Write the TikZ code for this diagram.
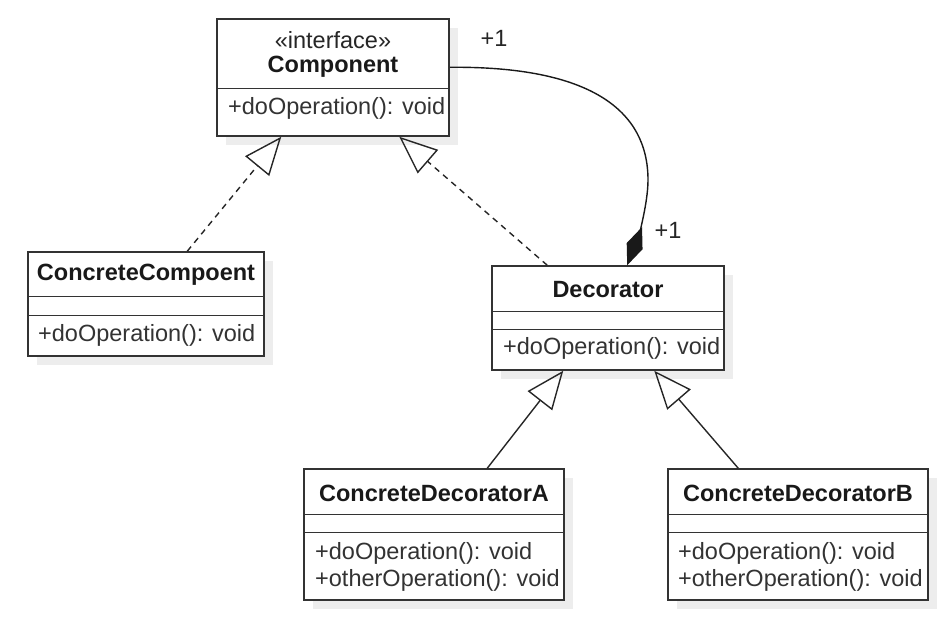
\documentclass[tikz,border=0pt]{standalone}
\usepackage{fontspec}
\setmainfont{Liberation Sans}
\usetikzlibrary{arrows.meta,calc,shadows}
\begin{document}
\begin{tikzpicture}[x=1pt,y=-1pt,
  every node/.style={font=\fontsize{23.5}{27}\selectfont},
  cls/.style={draw=black!80, line width=1.5pt, fill=white, inner sep=0pt,
    drop shadow={shadow xshift=9pt, shadow yshift=-9pt, fill=black!7, opacity=1}},
  divl/.style={draw=black!80, line width=1.5pt},
  lbl/.style={inner sep=0pt, text=black!85},
  bld/.style={inner sep=0pt, text=black!90, font=\fontsize{23.5}{27}\selectfont\bfseries},
  meth/.style={inner sep=0pt, anchor=west, text=black!80},
  real/.style={draw=black!85, line width=1.4pt, dash pattern=on 6pt off 5pt,
    -{Triangle[open,length=38pt,width=31pt,line width=1.4pt]}},
  inh/.style={draw=black!85, line width=1.4pt,
    -{Triangle[open,length=38pt,width=31pt,line width=1.4pt]}},
  compo/.style={draw=black!90, line width=1.4pt,
    -{Diamond[length=41pt,width=17pt]}}
]
\useasboundingbox (0,0) rectangle (937,618);

% Component
\node[cls, minimum width=232pt, minimum height=117pt] (comp) at (333,77.5) {};
\draw[divl] ($(comp.north west)+(0,70)$) -- ($(comp.north east)+(0,70)$);
\node[lbl] (compst) at (333,40) {«interface»};
\node[bld] (compt) at (333,67) {Component};
\node[meth] (compm) at (228,108) {+doOperation(): void};

% ConcreteCompoent
\node[cls, minimum width=236pt, minimum height=104pt] (cc) at (146,304) {};
\draw[divl] ($(cc.north west)+(0,45)$) -- ($(cc.north east)+(0,45)$);
\draw[divl] ($(cc.north west)+(0,64)$) -- ($(cc.north east)+(0,64)$);
\node[bld] (cct) at (146,275) {ConcreteCompoent};
\node[meth] (ccm) at (38,335) {+doOperation(): void};

% Decorator
\node[cls, minimum width=232pt, minimum height=104pt] (dec) at (608,318) {};
\draw[divl] ($(dec.north west)+(0,46)$) -- ($(dec.north east)+(0,46)$);
\draw[divl] ($(dec.north west)+(0,64)$) -- ($(dec.north east)+(0,64)$);
\node[bld] (dect) at (608,290) {Decorator};
\node[meth] (decm) at (503,348) {+doOperation(): void};

% ConcreteDecoratorA
\node[cls, minimum width=260pt, minimum height=131pt] (cda) at (434,534.5) {};
\draw[divl] ($(cda.north west)+(0,46)$) -- ($(cda.north east)+(0,46)$);
\draw[divl] ($(cda.north west)+(0,64)$) -- ($(cda.north east)+(0,64)$);
\node[bld] (cdat) at (434,493) {ConcreteDecoratorA};
\node[meth] (cdam1) at (315,553) {+doOperation(): void};
\node[meth] (cdam2) at (315,580) {+otherOperation(): void};

% ConcreteDecoratorB
\node[cls, minimum width=260pt, minimum height=131pt] (cdb) at (798,534.5) {};
\draw[divl] ($(cdb.north west)+(0,46)$) -- ($(cdb.north east)+(0,46)$);
\draw[divl] ($(cdb.north west)+(0,64)$) -- ($(cdb.north east)+(0,64)$);
\node[bld] (cdbt) at (798,493) {ConcreteDecoratorB};
\node[meth] (cdbm1) at (678,553) {+doOperation(): void};
\node[meth] (cdbm2) at (678,580) {+otherOperation(): void};

% connectors
\draw[real] ($(cc.north west)+(160,0)$) -- ($(comp.south west)+(65,0)$);
\draw[real] ($(dec.north west)+(56,0)$) -- ($(comp.south west)+(183,0)$);
\draw[inh] ($(cda.north west)+(184,0)$) -- ($(dec.south west)+(72,0)$);
\draw[inh] ($(cdb.north west)+(71,0)$) -- ($(dec.south west)+(163,0)$);
\draw[compo] (comp.5) .. controls (590,66) and (648,110) .. (648,180)
  .. controls (648,205) and (637,240) .. (dec.70);

\node[lbl] (m1) at (494,38) {+1};
\node[lbl] (m2) at (668,230) {+1};
\end{tikzpicture}
\end{document}
